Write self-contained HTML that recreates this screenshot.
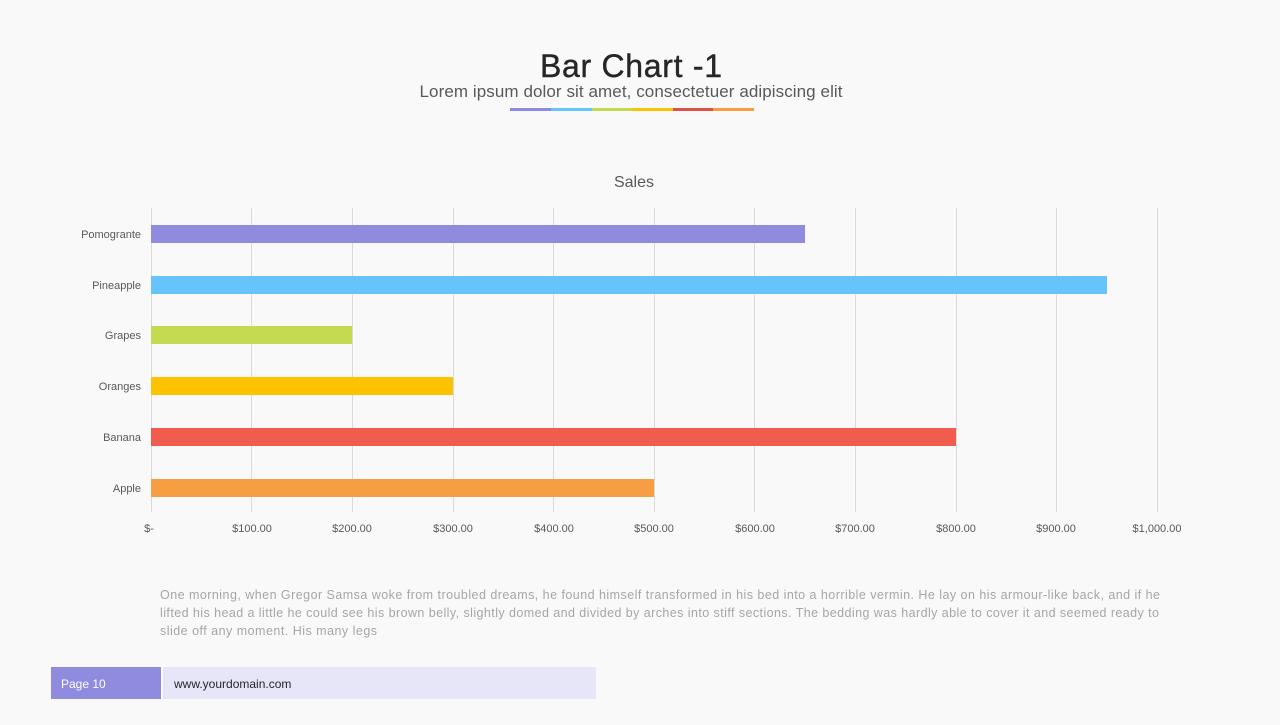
<!DOCTYPE html>
<html><head><meta charset="utf-8"><style>
body{margin:0;width:1280px;height:720px;background:#f9f9f9;overflow:hidden;font-family:"Liberation Sans",sans-serif}
</style></head><body>
<svg width="1280" height="720" xmlns="http://www.w3.org/2000/svg" font-family="Liberation Sans, sans-serif">
<rect width="1280" height="720" fill="#f9f9f9"/>
<text x="631" y="77" text-anchor="middle" font-size="32" fill="#262626" stroke="#262626" stroke-width="0.4" textLength="182">Bar Chart -1</text>
<text x="631" y="97" text-anchor="middle" font-size="17" fill="#595959" textLength="423">Lorem ipsum dolor sit amet, consectetuer adipiscing elit</text>
<rect x="510" y="108" width="41" height="3" fill="#8f8ce0"/>
<rect x="551" y="108" width="41" height="3" fill="#67c3fc"/>
<rect x="592" y="108" width="40" height="3" fill="#c5da50"/>
<rect x="632" y="108" width="41" height="3" fill="#fdc300"/>
<rect x="673" y="108" width="40" height="3" fill="#d9534a"/>
<rect x="713" y="108" width="41" height="3" fill="#f59f42"/>
<text x="634" y="187" text-anchor="middle" font-size="16" fill="#595959">Sales</text>
<g stroke="#d9d9d9" stroke-width="1">
<line x1="151.5" y1="208" x2="151.5" y2="512"/><line x1="251.5" y1="208" x2="251.5" y2="512"/><line x1="352.5" y1="208" x2="352.5" y2="512"/><line x1="453.5" y1="208" x2="453.5" y2="512"/><line x1="553.5" y1="208" x2="553.5" y2="512"/><line x1="654.5" y1="208" x2="654.5" y2="512"/><line x1="754.5" y1="208" x2="754.5" y2="512"/><line x1="855.5" y1="208" x2="855.5" y2="512"/><line x1="956.5" y1="208" x2="956.5" y2="512"/><line x1="1056.5" y1="208" x2="1056.5" y2="512"/><line x1="1157.5" y1="208" x2="1157.5" y2="512"/>
</g>
<rect x="151" y="225" width="654" height="18" fill="#8f8ce0"/>
<rect x="151" y="276" width="956" height="18" fill="#67c3fc"/>
<rect x="151" y="326" width="201" height="18" fill="#c5da50"/>
<rect x="151" y="377" width="302" height="18" fill="#fdc300"/>
<rect x="151" y="428" width="805" height="18" fill="#f05c4d"/>
<rect x="151" y="479" width="503" height="18" fill="#f59f42"/>
<g font-size="11" fill="#595959" text-anchor="end">
<text x="141" y="238">Pomogrante</text><text x="141" y="289">Pineapple</text><text x="141" y="339">Grapes</text><text x="141" y="390">Oranges</text><text x="141" y="441">Banana</text><text x="141" y="492">Apple</text>
</g>
<g font-size="11" fill="#595959" text-anchor="middle">
<text x="149" y="532">$-</text><text x="252" y="532">$100.00</text><text x="352" y="532">$200.00</text><text x="453" y="532">$300.00</text><text x="554" y="532">$400.00</text><text x="654" y="532">$500.00</text><text x="755" y="532">$600.00</text><text x="855" y="532">$700.00</text><text x="956" y="532">$800.00</text><text x="1056" y="532">$900.00</text><text x="1157" y="532">$1,000.00</text>
</g>
<g font-size="12.5" fill="#a6a6a6">
<text x="160" y="599" textLength="1000">One morning, when Gregor Samsa woke from troubled dreams, he found himself transformed in his bed into a horrible vermin. He lay on his armour-like back, and if he</text>
<text x="160" y="617" textLength="999">lifted his head a little he could see his brown belly, slightly domed and divided by arches into stiff sections. The bedding was hardly able to cover it and seemed ready to</text>
<text x="160" y="635" textLength="217">slide off any moment. His many legs</text>
</g>
<rect x="51" y="667" width="110" height="32" fill="#8f8ce0"/>
<rect x="163" y="667" width="433" height="32" fill="#e6e6f8"/>
<text x="61" y="688" font-size="12" fill="#fff">Page 10</text>
<text x="174" y="688" font-size="12" fill="#262626">www.yourdomain.com</text>
</svg>
</body></html>
